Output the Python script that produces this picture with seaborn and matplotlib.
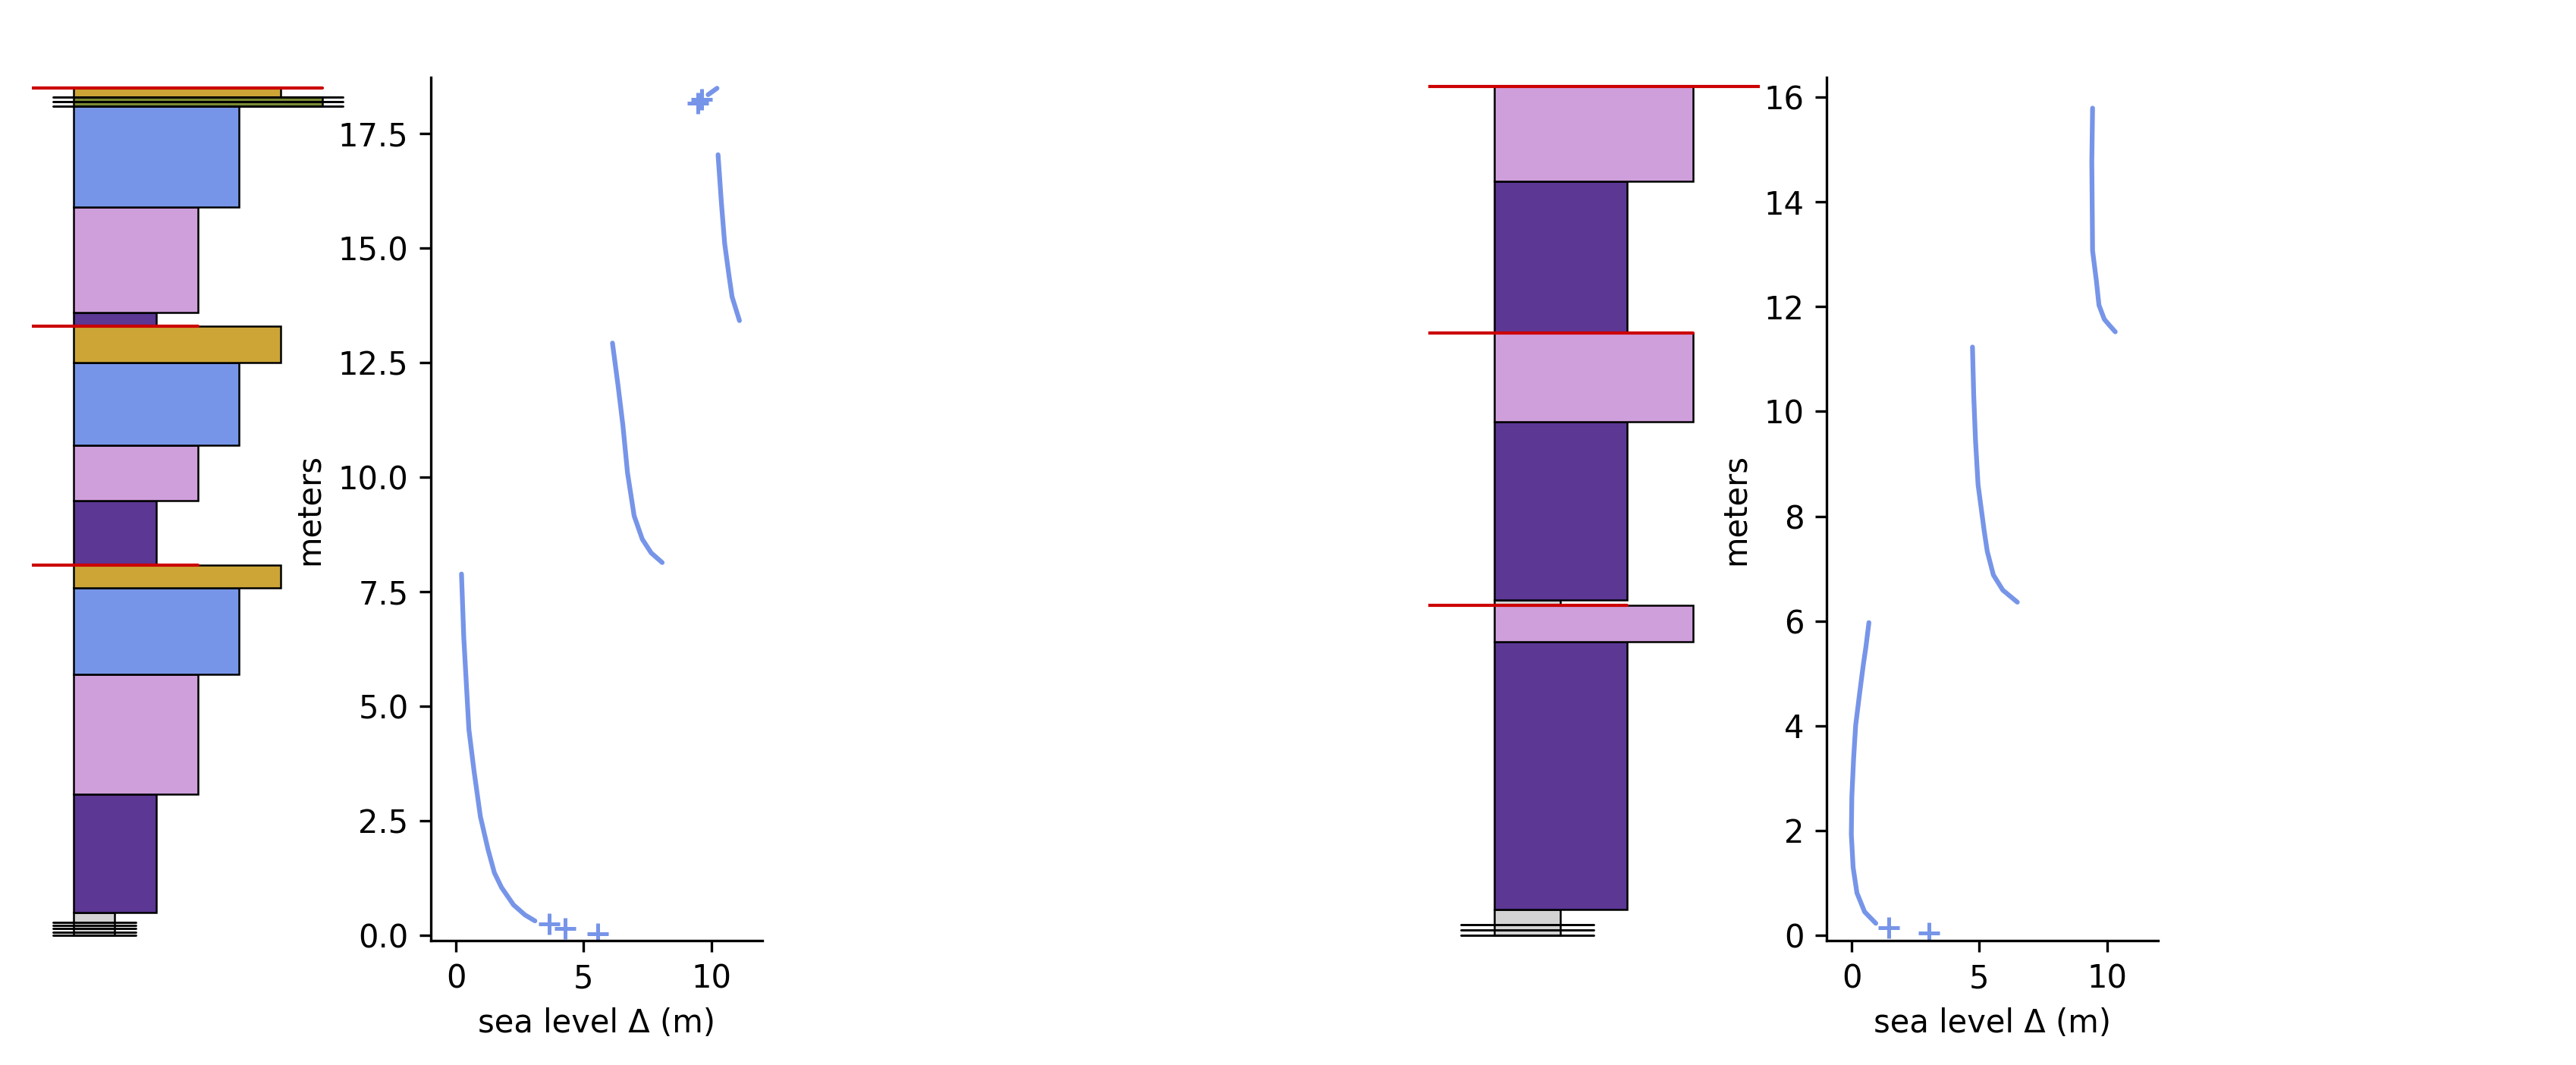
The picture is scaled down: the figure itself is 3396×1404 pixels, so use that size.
import matplotlib
matplotlib.use("Agg")
import matplotlib.pyplot as plt
import seaborn as sns
import pandas as pd

# ---------- left section ----------
# beds from bottom to top: base, top (m), grain-size width, facies
left_base = [0.0, 0.5, 3.09, 5.70, 7.59, 8.09, 9.49, 10.70, 12.50, 13.30, 13.60, 15.90, 18.10, 18.30]
left_top = [0.5, 3.09, 5.70, 7.59, 8.09, 9.49, 10.70, 12.50, 13.30, 13.60, 15.90, 18.10, 18.30, 18.50]
left_width = [1, 2, 3, 4, 5, 2, 3, 4, 5, 2, 3, 4, 6, 5]
left_facies = ['gap', 'mud', 'silt', 'sand', 'grain', 'mud', 'silt', 'sand', 'grain',
               'mud', 'silt', 'sand', 'rud', 'grain']
# flooding surfaces (red) and their right end
left_red_y = [8.09, 13.30, 18.50]
left_red_end = [3, 3, 6]
# unconformity hatch lines
left_hatch_y = [0.0, 0.07, 0.15, 0.22, 0.29, 18.10, 18.20, 18.30]
left_hatch_x0 = [-0.5, -0.5, -0.5, -0.5, -0.5, -0.5, -0.5, -0.5]
left_hatch_x1 = [1.5, 1.5, 1.5, 1.5, 1.5, 6.5, 6.5, 6.5]

# sea level curve pieces
left_c1_x = [0.21, 0.30, 0.40, 0.50, 0.70, 0.95, 1.25, 1.50, 1.78, 2.25, 2.70, 3.09]
left_c1_y = [7.89, 6.50, 5.50, 4.50, 3.60, 2.60, 1.88, 1.37, 1.05, 0.67, 0.45, 0.32]
left_c2_x = [6.13, 6.35, 6.54, 6.72, 6.98, 7.30, 7.65, 8.08]
left_c2_y = [12.93, 12.00, 11.13, 10.10, 9.16, 8.65, 8.35, 8.14]
left_c3_x = [10.27, 10.40, 10.53, 10.70, 10.82, 11.11]
left_c3_y = [17.04, 16.00, 15.10, 14.40, 13.94, 13.42]
left_c4_x = [9.88, 10.23]
left_c4_y = [18.35, 18.49]
left_mark_x = [3.66, 4.28, 5.55, 9.47, 9.62]
left_mark_y = [0.25, 0.15, 0.04, 18.16, 18.25]
left_ylim = (-0.11, 18.72)

# ---------- right section ----------
right_base = [0.0, 0.5, 5.60, 6.30, 6.40, 9.80, 11.50, 14.40]
right_top = [0.5, 5.60, 6.30, 6.40, 9.80, 11.50, 14.40, 16.20]
right_width = [1, 2, 3, 1, 2, 3, 2, 3]
right_facies = ['gap', 'mud', 'silt', 'gap', 'mud', 'silt', 'mud', 'silt']
right_red_y = [6.30, 11.50, 16.20]
right_red_end = [2, 3, 4]
right_hatch_y = [0.0, 0.1, 0.2]
right_hatch_x0 = [-0.5, -0.5, -0.5]
right_hatch_x1 = [1.5, 1.5, 1.5]

right_c1_x = [0.67, 0.55, 0.44, 0.30, 0.15, 0.07, 0.0, -0.02, 0.05, 0.20, 0.50, 0.94]
right_c1_y = [5.97, 5.50, 5.13, 4.60, 4.01, 3.38, 2.65, 1.93, 1.30, 0.81, 0.45, 0.23]
right_c2_x = [4.73, 4.78, 4.85, 4.95, 5.19, 5.31, 5.55, 5.92, 6.49]
right_c2_y = [11.23, 10.30, 9.44, 8.60, 7.72, 7.33, 6.88, 6.59, 6.36]
right_c3_x = [9.44, 9.41, 9.44, 9.59, 9.69, 9.90, 10.11, 10.33]
right_c3_y = [15.79, 14.77, 13.07, 12.49, 12.03, 11.76, 11.64, 11.52]
right_mark_x = [1.46, 3.02]
right_mark_y = [0.145, 0.05]
right_ylim = (-0.10, 16.37)

facies_colors = {'gap': '#d3d3d3', 'mud': '#5c3794', 'silt': '#cf9fdb',
                 'sand': '#7795e8', 'grain': '#cca536', 'rud': '#7b8c34'}
curve_color = '#7795e8'

sns.set_style("ticks", {'axes.edgecolor': 'black', 'text.color': 'black',
                        'xtick.color': 'black', 'ytick.color': 'black',
                        'axes.labelcolor': 'black'})

fig = plt.figure(figsize=(11.32, 4.68), dpi=300)
w, h, b = 0.1287, 0.8102, 0.1168


def draw_section(x0_strat, x0_curve, base, top, width, facies, red_y, red_end,
                 hy, hx0, hx1, curves, mx, my, ylim):
    ax_s = fig.add_axes([x0_strat, b, w, h])
    ax_c = fig.add_axes([x0_curve, b, w, h])

    # strat column
    thick = [t - s for s, t in zip(base, top)]
    ax_s.barh(base, width, height=thick, left=0, align='edge',
              color=[facies_colors[f] for f in facies], edgecolor='black', linewidth=0.6)
    for y, a, c in zip(hy, hx0, hx1):
        ax_s.plot([a, c], [y, y], color='black', lw=0.7)
    for y, e in zip(red_y, red_end):
        ax_s.plot([-1, e], [y, y], color='#cc0000', lw=1.0)
    ax_s.set_xlim(-1, max(width) + 1)
    ax_s.set_ylim(*ylim)
    ax_s.axis('off')

    # sea level curve
    frames = []
    for i, (cx, cy) in enumerate(curves):
        frames.append(pd.DataFrame({'x': cx, 'y': cy, 'seg': i}))
    df = pd.concat(frames, ignore_index=True)
    sns.lineplot(data=df, x='x', y='y', units='seg', estimator=None, sort=False,
                 color=curve_color, lw=1.5, ax=ax_c)
    sns.scatterplot(x=mx, y=my, marker='+', s=45, color=curve_color,
                    linewidth=1.2, ax=ax_c)
    ax_c.set_xlim(-1, 12)
    ax_c.set_ylim(*ylim)
    ax_c.set_xticks([0, 5, 10])
    ax_c.set_xlabel('sea level Δ (m)')
    ax_c.set_ylabel('meters')
    sns.despine(ax=ax_c)


draw_section(0.01243, 0.16717, left_base, left_top, left_width, left_facies,
             left_red_y, left_red_end, left_hatch_y, left_hatch_x0, left_hatch_x1,
             [(left_c1_x, left_c1_y), (left_c2_x, left_c2_y),
              (left_c3_x, left_c3_y), (left_c4_x, left_c4_y)],
             left_mark_x, left_mark_y, left_ylim)

draw_section(0.55433, 0.70898, right_base, right_top, right_width, right_facies,
             right_red_y, right_red_end, right_hatch_y, right_hatch_x0, right_hatch_x1,
             [(right_c1_x, right_c1_y), (right_c2_x, right_c2_y),
              (right_c3_x, right_c3_y)],
             right_mark_x, right_mark_y, right_ylim)

fig.savefig('out.png', dpi=300)
